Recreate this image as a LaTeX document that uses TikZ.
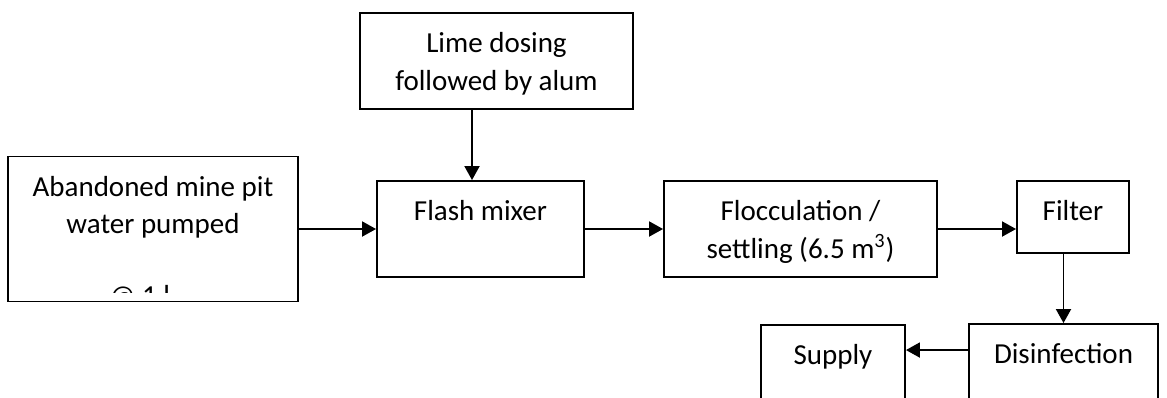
\documentclass[tikz,border=0pt]{standalone}
\usepackage{fontspec}
\setmainfont{Carlito}
\usetikzlibrary{arrows.meta,positioning,calc}

\tikzset{
  stage/.style={draw, line width=1.1pt, inner sep=0pt},
  caption/.style={anchor=north, align=center, inner sep=0pt, yshift=-0.4cm,
    font=\fontsize{16.5}{21.6}\selectfont},
  flow/.style={line width=1.1pt, -{Triangle[length=0.28cm, width=0.3cm]}}
}

\begin{document}
\begin{tikzpicture}[x=0.02cm, y=-0.02cm]
    \useasboundingbox (0,0) rectangle (1167,397);
    \clip (0,0) rectangle (1167,397);

    % treatment stages
    \node[stage, minimum width=5.8cm, minimum height=2.9cm] (pit) at (153,229) {};
    \node[stage, minimum width=5.46cm, minimum height=1.92cm,
      label={[caption, name=limetxt]north:Lime dosing\\followed by alum}] (lime) at (496.5,61) {};
    \node[stage, minimum width=4.14cm, minimum height=1.92cm,
      label={[caption, name=flashtxt]north:Flash mixer}] (flash) at (480.5,229) {};
    \node[stage, minimum width=5.46cm, minimum height=1.92cm,
      label={[caption, name=floctxt]north:Flocculation /\\settling (6.5 m\textsuperscript{3})}] (floc) at (800.5,229) {};
    \node[stage, minimum width=2.24cm, minimum height=1.44cm,
      label={[caption, name=filtertxt]north:Filter}] (filter) at (1073,217) {};
    \node[stage, minimum width=3.78cm, minimum height=1.92cm,
      label={[caption, name=distxt]north:Disinfection}] (dis) at (1063.5,372) {};
    \node[stage, minimum width=2.88cm, minimum height=1.92cm,
      label={[caption, name=supplytxt]north:Supply}] (supply) at (833,373) {};

    % source text runs past the box bottom
    \begin{scope}
        \clip (pit.north west) rectangle (pit.east |- 0,292);
        \node[caption] (pittxt) at (pit.north) {Abandoned mine pit\\water pumped\\[18.9pt]@ 1 l\phantom{ps}};
    \end{scope}

    % flow
    \draw[flow] ([xshift=-0.49cm]lime.south) -- ([xshift=-0.49cm]lime.south |- flash.north);
    \draw[flow] (pit.east) -- (flash.west);
    \draw[flow] (flash.east) -- (floc.west);
    \draw[flow] (floc.east) -- (floc.east -| filter.west);
    \draw[flow] (filter.south -| dis.north) -- (dis.north);
    \draw[flow] ([yshift=-0.54cm]dis.north west) -- ([yshift=-0.54cm]dis.north west -| supply.east);
\end{tikzpicture}
\end{document}
